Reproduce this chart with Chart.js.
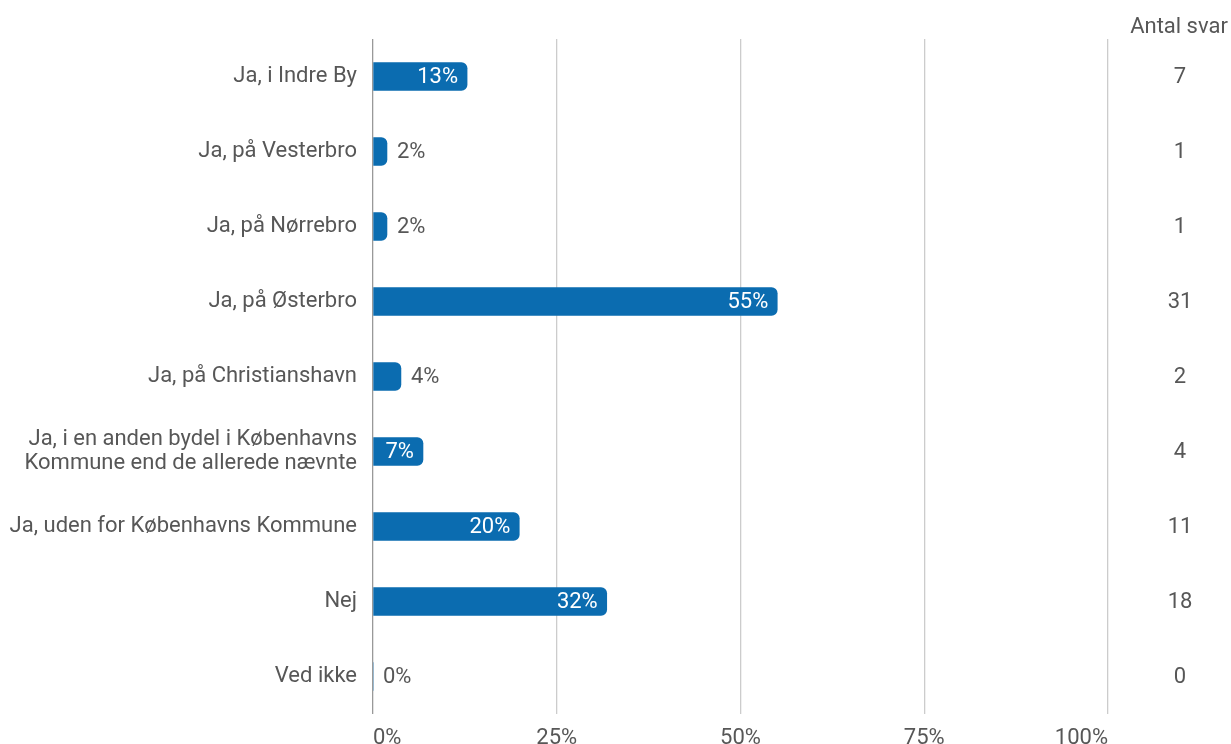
<!DOCTYPE html>
<html>
<head>
<meta charset="utf-8">
<script src="https://cdn.jsdelivr.net/npm/chart.js@4.4.1/dist/chart.umd.min.js"></script>
<style>
  html, body { margin: 0; padding: 0; background: #fff; }
  #wrap { width: 1231px; height: 744px; position: relative; }
</style>
</head>
<body>
<div id="wrap"><canvas id="c" width="1231" height="744"></canvas></div>
<script>
const categories = [
  "Ja, i Indre By",
  "Ja, på Vesterbro",
  "Ja, på Nørrebro",
  "Ja, på Østerbro",
  "Ja, på Christianshavn",
  ["Ja, i en anden bydel i Københavns", "Kommune end de allerede nævnte"],
  "Ja, uden for Københavns Kommune",
  "Nej",
  "Ved ikke"
];
const percentValues = [12.8, 1.9, 1.9, 55.0, 3.8, 6.8, 19.9, 31.8, 0];
const answerCounts = [7, 1, 1, 31, 2, 4, 11, 18, 0];
const countHeader = "Antal svar";
const xTicks = [0, 25, 50, 75, 100];

const FONT = "Roboto, 'Noto Sans', sans-serif";
const FSIZE = 22;
const FWEIGHT = 400;
const TEXT = "#575757";
const BAR = "#0b6cb0";

const labelsPlugin = {
  id: 'valueLabels',
  afterDatasetsDraw(chart) {
    const ctx = chart.ctx;
    const meta = chart.getDatasetMeta(0);
    ctx.save();
    ctx.font = FWEIGHT + " " + FSIZE + "px " + FONT;
    ctx.textBaseline = "middle";
    meta.data.forEach((bar, i) => {
      const v = percentValues[i];
      const txt = Math.round(v) + "%";
      if (Math.round(v) >= 7) {
        ctx.fillStyle = "#ffffff";
        ctx.textAlign = "right";
        ctx.fillText(txt, bar.x - 9, bar.y + 1);
      } else {
        ctx.fillStyle = TEXT;
        ctx.textAlign = "left";
        ctx.fillText(txt, bar.x + 10, bar.y + 1);
      }
      ctx.fillStyle = TEXT;
      ctx.textAlign = "center";
      ctx.fillText(String(answerCounts[i]), 1180, bar.y + 1);
    });
    ctx.textAlign = "center";
    ctx.fillStyle = TEXT;
    ctx.fillText(countHeader, 1179, 27);
    ctx.restore();
  }
};

new Chart(document.getElementById('c'), {
  type: 'bar',
  data: {
    labels: categories,
    datasets: [{
      data: percentValues,
      backgroundColor: BAR,
      borderWidth: 0,
      borderRadius: 6,
      borderSkipped: 'start',
      barThickness: 28
    }]
  },
  options: {
    indexAxis: 'y',
    responsive: false,
    animation: false,
    devicePixelRatio: 1,
    layout: { padding: { top: 39, right: 123, left: 0, bottom: 0 } },
    plugins: { legend: { display: false }, tooltip: { enabled: false } },
    scales: {
      x: {
        min: 0, max: 100,
        afterBuildTicks(scale) { scale.ticks = xTicks.map(v => ({ value: v })); },
        afterFit(scale) { scale.height = 30; },
        border: { display: false },
        grid: {
          drawTicks: false,
          color: (c) => (c.tick && c.tick.value === 0) ? '#999999' : '#cccccc',
          lineWidth: 1.3
        },
        ticks: {
          padding: 11,
          align: 'inner',
          maxRotation: 0,
          color: TEXT,
          font: { family: FONT, size: FSIZE, weight: FWEIGHT },
          callback: (v) => v + '%'
        }
      },
      y: {
        afterFit(scale) { scale.width = 373; },
        border: { display: false },
        grid: { display: false, drawTicks: false },
        ticks: {
          padding: 16,
          color: TEXT,
          font: { family: FONT, size: FSIZE, weight: FWEIGHT, lineHeight: 1.1 }
        }
      }
    }
  },
  plugins: [labelsPlugin]
});
</script>
</body>
</html>
